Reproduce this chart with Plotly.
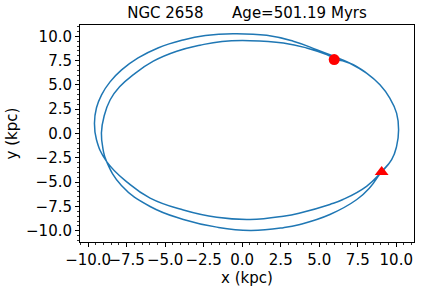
import plotly.graph_objects as go

# Orbit path (kpc), in drawing order
orbit_x = [5.97, 6.99, 8.07, 8.94, 9.58, 10.02, 10.15, 10.02, 9.70, 9.0,
           8.07, 6.54, 5.69, 3.75, 2.67, 0.51, -1.65, -3.82, -5.98, -7.41,
           -8.81, -9.46, -9.59, -9.46, -9.13, -8.58, -7.83, -6.76, -5.47, -3.84,
           -2.39, -0.60, 1.59, 3.31, 4.83, 5.91, 6.99, 8.07, 8.94, 9.58,
           10.02, 10.15, 10.02, 9.70, 9.0, 8.29, 7.44, 5.69, 3.75, 2.67,
           0.51, -1.65, -3.82, -5.98, -7.84, -8.81, -9.03, -9.14, -8.96, -8.57,
           -7.96, -7.06, -5.77, -4.25, -2.74, -1.31, 0.51, 2.67, 4.18, 5.48,
           6.02]
orbit_y = [7.60, 7.23, 6.21, 5.01, 3.64, 2.10, 0.39, -1.32, -2.69, -4.02,
           -5.43, -6.79, -7.30, -8.17, -8.50, -8.84, -8.62, -7.87, -6.64, -5.08,
           -2.86, -0.64, 1.08, 2.65, 3.98, 5.31, 6.54, 7.77, 8.80, 9.62,
           10.08, 10.27, 10.10, 9.49, 8.63, 7.95, 7.23, 6.21, 5.01, 3.64,
           2.10, 0.39, -1.32, -2.69, -4.02, -5.56, -6.79, -8.33, -9.35, -9.69,
           -9.97, -9.63, -8.84, -7.51, -5.35, -2.86, -1.66, 0.05, 1.83, 3.47,
           4.80, 6.06, 7.44, 8.46, 9.08, 9.47, 9.55, 9.31, 8.80, 8.11,
           7.70]

# Marker positions (kpc)
circle_x = [5.97]
circle_y = [7.6]
triangle_x = [9.05]
triangle_y = [-3.95]

title_text = "NGC 2658\u00a0\u00a0\u00a0\u00a0\u00a0\u00a0Age=501.19 Myrs"
x_label = "x (kpc)"
y_label = "y (kpc)"

FONT = "DejaVu Sans"

fig = go.Figure()
fig.add_trace(go.Scatter(
    x=orbit_x, y=orbit_y, mode="lines",
    line=dict(color="#1f77b4", width=1.5, shape="spline", smoothing=1.3),
    hoverinfo="skip", showlegend=False))
fig.add_trace(go.Scatter(
    x=circle_x, y=circle_y, mode="markers",
    marker=dict(symbol="circle", size=11, color="#ff0000"),
    showlegend=False))
fig.add_trace(go.Scatter(
    x=triangle_x, y=triangle_y, mode="markers",
    marker=dict(symbol="triangle-up", size=12, color="#ff0000"),
    showlegend=False))

axis_common = dict(
    showgrid=False, zeroline=False, automargin=False,
    showline=True, linecolor="black", linewidth=1, mirror=True,
    ticks="outside", ticklen=4, tickwidth=1, tickcolor="black",
    tickfont=dict(family=FONT, size=15, color="black"),
    tickformat=".1f", dtick=2.5, tick0=0, tickangle=0,
    minor=dict(ticks="outside", ticklen=2, tickwidth=0.8, tickcolor="black", dtick=0.5, showgrid=False),
)

fig.update_layout(
    width=421, height=290,
    margin=dict(l=80, r=7, t=25, b=48),
    paper_bgcolor="white", plot_bgcolor="white",
    font=dict(family=FONT, size=15, color="black"),
    hovermode=False,
    title=dict(text=title_text, x=0.5, xref="paper", xanchor="center",
               y=1 - 13 / 290, yref="container", yanchor="middle",
               font=dict(family=FONT, size=15, color="black")),
    xaxis=dict(range=[-10.53, 11.15],
               title=dict(text=x_label, standoff=2, font=dict(family=FONT, size=15)),
               **axis_common),
    yaxis=dict(range=[-11.16, 11.16],
               title=dict(text=y_label, standoff=4, font=dict(family=FONT, size=15)),
               **axis_common),
)

fig.write_html("out.html", config={"displayModeBar": False, "staticPlot": True},
               post_script="document.body.style.margin='0';document.body.style.overflow='hidden';")
